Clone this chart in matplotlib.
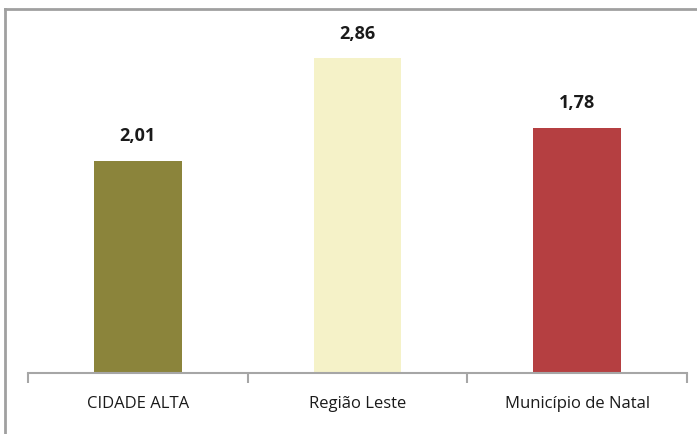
import matplotlib.pyplot as plt
from matplotlib.lines import Line2D

categories = ["CIDADE ALTA", "Região Leste", "Município de Natal"]
# bar heights as drawn in the picture; the printed labels differ from them
heights = [1.93, 2.86, 2.23]
value_labels = ["2,01", "2,86", "1,78"]
colors = ["#8B843B", "#F5F2C8", "#B53F41"]

plt.rcParams['font.family'] = ['Open Sans', 'DejaVu Sans']

fig = plt.figure(figsize=(6.97, 4.35), dpi=100)
ax = fig.add_axes([28 / 697, 1 - 374 / 435, 659 / 697, 352 / 435])

x = range(len(categories))
bars = ax.bar(x, heights, width=0.40, color=colors)

for b, lab in zip(bars, value_labels):
    ax.text(b.get_x() + b.get_width() / 2, b.get_height() + 0.15, lab,
            ha='center', va='bottom', fontsize=13, fontweight='bold', color='#1a1a1a')

ax.set_xlim(-0.5, 2.5)
ax.set_ylim(0, 3.2)
ax.set_yticks([])
ax.set_xticks(list(x))
ax.set_xticklabels(categories, fontsize=12, color='#1a1a1a')
ax.tick_params(axis='x', which='major', length=0, pad=16)
ax.set_xticks([-0.5, 0.5, 1.5, 2.5], minor=True)
ax.tick_params(axis='x', which='minor', length=7, width=1.5, color='#A6A6A6')
for s in ['top', 'right', 'left']:
    ax.spines[s].set_visible(False)
ax.spines['bottom'].set_color('#A6A6A6')
ax.spines['bottom'].set_linewidth(1.5)

# outer frame (only top and left visible in the crop)
fig.add_artist(Line2D([5 / 697, 1], [1 - 10 / 435, 1 - 10 / 435], color='#A0A0A0', lw=2))
fig.add_artist(Line2D([5 / 697, 5 / 697], [0, 1 - 10 / 435], color='#A0A0A0', lw=2))

fig.savefig("out.png", dpi=100)
